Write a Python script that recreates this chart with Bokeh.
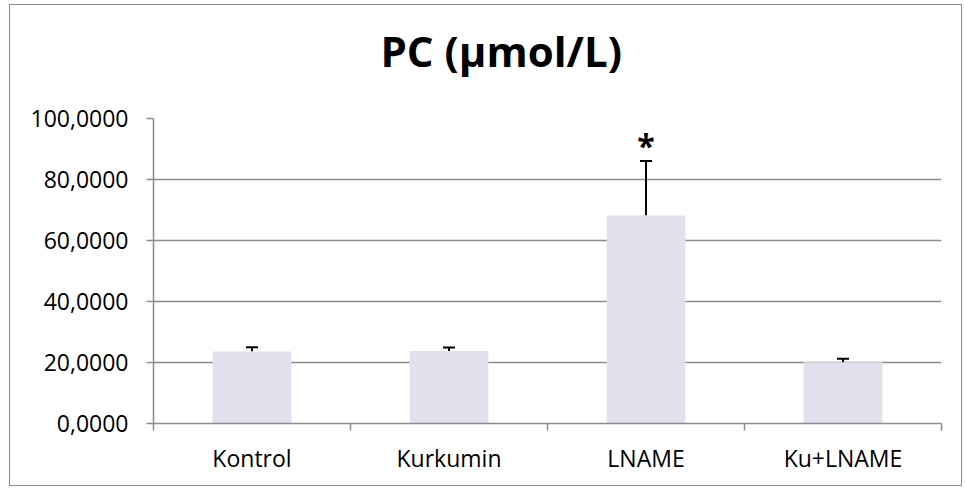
from bokeh.plotting import figure
from bokeh.models import (ColumnDataSource, Range1d, FixedTicker, Whisker, TeeHead,
                          Title, LabelSet)
from bokeh.core.properties import value
from bokeh.embed import file_html
from bokeh.resources import INLINE

# ---- data ----
categories = ["Kontrol", "Kurkumin", "LNAME", "Ku+LNAME"]
means = [23.6, 23.8, 68.2, 20.1]
errors = [1.4, 1.1, 17.9, 1.1]
significance = ["", "", "*", ""]
y_ticks = [0, 20, 40, 60, 80, 100]
y_tick_labels = ["0,0000", "20,0000", "40,0000", "60,0000", "80,0000", "100,0000"]
title_text = "PC (\u00b5mol/L)"

GRAY = "#8c8c8c"
BAR = "#E4DFEC"
FONT = "Open Sans"

xs = [i + 0.5 for i in range(len(categories))]
upper = [m + e for m, e in zip(means, errors)]
src = ColumnDataSource(dict(x=xs, top=means, upper=upper, sig=significance))

p = figure(width=953, height=482, output_backend="svg", toolbar_location=None,
           x_range=Range1d(0, len(categories)), y_range=Range1d(0, 100),
           min_border_left=143, min_border_right=22, min_border_top=113,
           min_border_bottom=64)
p.styles = {"border": "1px solid #8c8c8c", "box-sizing": "border-box",
            "margin-left": "9px", "margin-top": "4px"}
p.outline_line_color = None
p.background_fill_color = "white"
p.border_fill_color = "white"

p.vbar(x="x", top="top", bottom=0, width=0.4, source=src,
       fill_color=BAR, line_color=None)

wh = Whisker(base="x", lower="top", upper="upper", source=src,
             line_color="black", line_width=2,
             upper_head=TeeHead(size=12, line_color="black", line_width=2),
             lower_head=None)
p.add_layout(wh)

stars = LabelSet(x="x", y="upper", text="sig", source=src, y_offset=3,
                 text_align="center", text_baseline="alphabetic",
                 text_font=value(FONT), text_font_size="32px",
                 text_font_style="bold", text_color="black")
p.add_layout(stars)

# x axis
p.xaxis.ticker = FixedTicker(ticks=xs, minor_ticks=list(range(len(categories) + 1)))
p.xaxis.major_label_overrides = {x: c for x, c in zip(xs, categories)}
p.xaxis.major_tick_line_color = None
p.xaxis.major_tick_out = 6
p.xaxis.minor_tick_line_color = GRAY
p.xaxis.minor_tick_line_width = 1.5
p.xaxis.minor_tick_out = 7
p.xaxis.minor_tick_in = 0
p.xaxis.axis_line_color = GRAY
p.xaxis.axis_line_width = 1.5
p.xaxis.major_label_standoff = 11
p.xaxis.major_label_text_font = FONT
p.xaxis.major_label_text_font_size = "23px"
p.xaxis.major_label_text_color = "black"
p.xgrid.grid_line_color = None

# y axis
p.yaxis.ticker = FixedTicker(ticks=y_ticks)
p.yaxis.major_label_overrides = {t: l for t, l in zip(y_ticks, y_tick_labels)}
p.yaxis.minor_tick_line_color = None
p.yaxis.major_tick_line_color = GRAY
p.yaxis.major_tick_line_width = 1.5
p.yaxis.major_tick_out = 7
p.yaxis.major_tick_in = 0
p.yaxis.axis_line_color = GRAY
p.yaxis.axis_line_width = 1.5
p.yaxis.major_label_standoff = 18
p.yaxis.major_label_text_font = FONT
p.yaxis.major_label_text_font_size = "23px"
p.yaxis.major_label_text_color = "black"
p.ygrid.grid_line_color = GRAY
p.ygrid.grid_line_width = 1.5

# spacer panel between the frame and the title
spacer = Title(text=" ", standoff=0, text_font=FONT, text_font_size="27px",
               text_color="white")
p.add_layout(spacer, "above")

title = Title(text=title_text, align="left", offset=227, vertical_align="middle",
              standoff=0, text_font=FONT, text_font_size="42px",
              text_font_style="bold", text_color="black")
p.add_layout(title, "above")

open("out.html", "w").write(file_html(p, INLINE))
